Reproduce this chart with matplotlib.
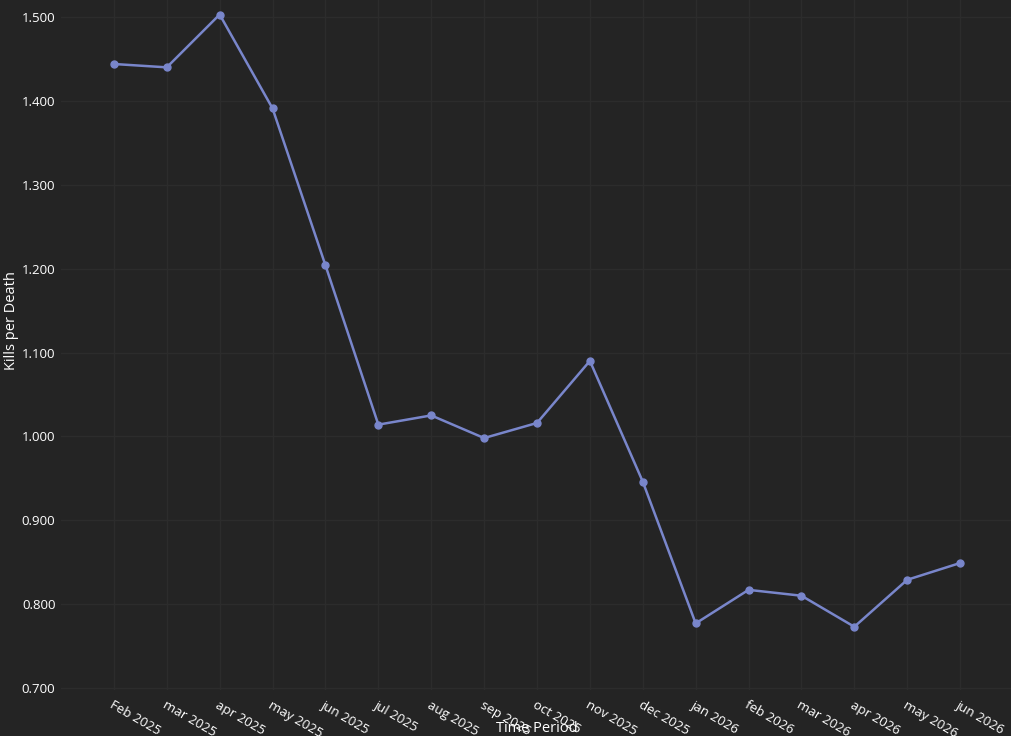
import matplotlib
matplotlib.use('Agg')
import matplotlib.pyplot as plt
from matplotlib.ticker import FormatStrFormatter

plt.rcParams['font.family'] = ['Open Sans', 'DejaVu Sans']

months = ['Feb 2025', 'mar 2025', 'apr 2025', 'may 2025', 'jun 2025', 'jul 2025',
          'aug 2025', 'sep 2025', 'oct 2025', 'nov 2025', 'dec 2025', 'jan 2026',
          'feb 2026', 'mar 2026', 'apr 2026', 'may 2026', 'jun 2026']
kd = [1.444, 1.440, 1.503, 1.391, 1.204, 1.014, 1.025, 0.998, 1.016, 1.090,
      0.946, 0.777, 0.817, 0.810, 0.773, 0.829, 0.849]
yticks = [0.7, 0.8, 0.9, 1.0, 1.1, 1.2, 1.3, 1.4, 1.5]

bg = '#242424'
txt = '#ffffff'
W, H = 1012, 736

fig = plt.figure(figsize=(W / 100, H / 100), dpi=100, facecolor=bg)
ax = fig.add_axes([61 / W, (H - 690) / H, (1013 - 61) / W, 690 / H])
ax.set_facecolor(bg)

x = list(range(len(months)))
ax.plot(x, kd, color='#7986cb', lw=1.8, marker='o', ms=5, zorder=3)

ax.set_xlim(-1, 17)
ax.set_ylim(0.6976, 1.5203)
ax.set_xticks(x)
ax.set_xticklabels(months, rotation=-30, ha='left', va='top',
                   rotation_mode='anchor', fontsize=9.5, color=txt)
ax.set_yticks(yticks)
ax.yaxis.set_major_formatter(FormatStrFormatter('%.3f'))
ax.tick_params(axis='y', labelsize=9.5, labelcolor=txt, length=0, pad=4)
ax.tick_params(axis='x', length=0, pad=6)
ax.grid(True, color='#2c2c2c', lw=1)
for s in ax.spines.values():
    s.set_visible(False)

fig.text(537 / W, 1 - 729 / H, 'Time Period', ha='center', va='center',
         fontsize=10.5, color=txt)
fig.text(12 / W, 1 - 321 / H, 'Kills per Death', ha='center', va='center',
         rotation=90, fontsize=10.5, color=txt)

fig.savefig('out.png', dpi=100, facecolor=bg)
